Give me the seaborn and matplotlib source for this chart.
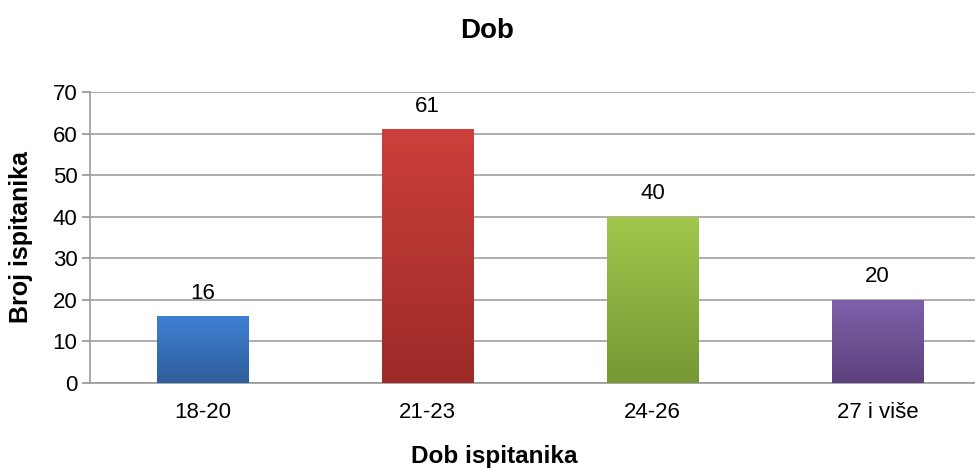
import numpy as np
import pandas as pd
import matplotlib
matplotlib.use("Agg")
import matplotlib.pyplot as plt
import seaborn as sns
from matplotlib.colors import LinearSegmentedColormap

categories = ["18-20", "21-23", "24-26", "27 i više"]
counts = [16, 61, 40, 20]
top_colors = ["#3f80d2", "#cd3f3b", "#a2c74c", "#8060ab"]
bottom_colors = ["#2e5d9c", "#9c2b28", "#779834", "#5d417d"]
y_ticks = [0, 10, 20, 30, 40, 50, 60, 70]

sns.set_theme(style="white")
plt.rcParams["font.family"] = ["Liberation Sans", "DejaVu Sans"]
plt.rcParams["text.color"] = "black"
plt.rcParams["axes.labelcolor"] = "black"
plt.rcParams["xtick.color"] = "black"
plt.rcParams["ytick.color"] = "black"

fig = plt.figure(figsize=(9.75, 4.68), dpi=100)
ax = fig.add_axes([90 / 975, 85 / 468, 900 / 975, 291 / 468])

df = pd.DataFrame({"dob": categories, "broj": counts})
sns.barplot(data=df, x="dob", y="broj", ax=ax, width=0.405,
            color="#cccccc", edgecolor="none", zorder=3)

ax.set_ylim(0, 70)
ax.set_xlim(-0.5, 3.5)
ax.set_yticks(y_ticks)
ax.yaxis.grid(True, color="#a0a0a0", linewidth=1.2, zorder=0)
ax.xaxis.grid(False)
for side in ["top", "right"]:
    ax.spines[side].set_visible(False)
ax.spines["left"].set_color("#999999")
ax.spines["bottom"].set_color("#999999")
ax.spines["left"].set_linewidth(1.2)
ax.spines["bottom"].set_linewidth(1.2)
ax.tick_params(axis="y", which="both", left=True, length=6, color="#999999",
               labelcolor="black", labelsize=16, pad=3)
ax.tick_params(axis="x", bottom=False, labelcolor="black", labelsize=16, pad=8)

# vertical gradient on every bar
grad = np.linspace(0, 1, 256).reshape(-1, 1)
for patch, c_top, c_bot, val in zip(ax.patches, top_colors, bottom_colors, counts):
    x0, y0 = patch.get_x(), patch.get_y()
    w, h = patch.get_width(), patch.get_height()
    cmap = LinearSegmentedColormap.from_list("g", [c_bot, c_top])
    im = ax.imshow(grad, cmap=cmap, aspect="auto", origin="lower",
                   extent=[x0, x0 + w, y0, y0 + h], zorder=4)
    im.set_clip_path(patch)
    ax.annotate(str(val), (x0 + w / 2, val), xytext=(0, 9),
                textcoords="offset points", ha="center", va="bottom",
                fontsize=16, color="black")

ax.set_xlim(-0.5, 3.5)
ax.set_ylim(0, 70)
ax.set_xlabel("Dob ispitanika", fontsize=17.5, fontweight="bold", va="center")
ax.xaxis.set_label_coords((494 - 90) / 900, -(456 - 383) / 291)
ax.set_ylabel("Broj ispitanika", fontsize=18, fontweight="bold", va="center")
ax.yaxis.set_label_coords((21 - 90) / 900, 0.5)
fig.text(487 / 975, 1 - 31 / 468, "Dob", ha="center", va="center",
         fontsize=20, fontweight="bold")

fig.savefig("out.png", dpi=100)
